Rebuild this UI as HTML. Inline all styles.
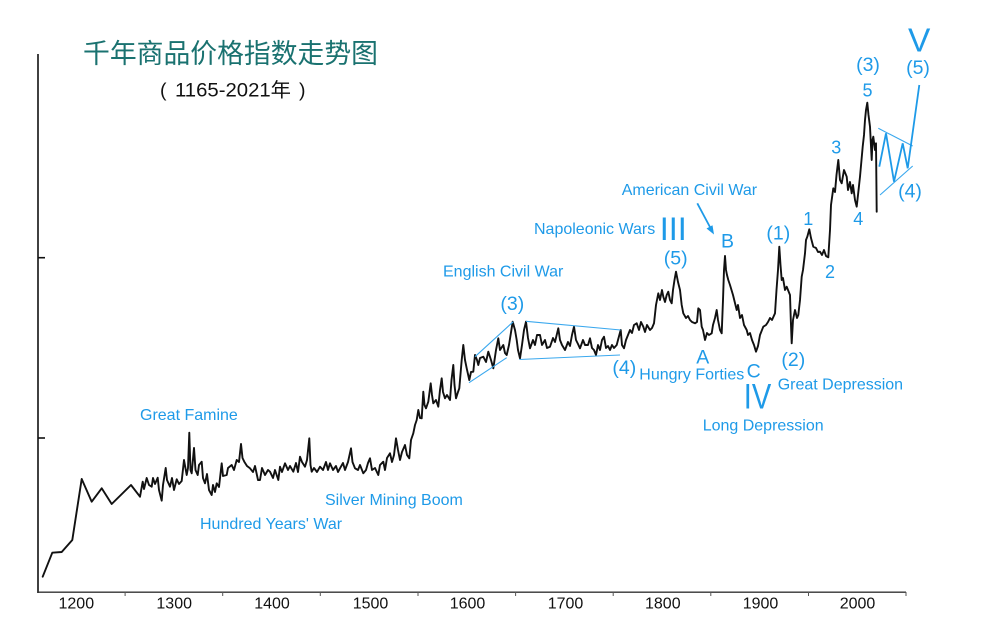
<!DOCTYPE html>
<html>
<head>
<meta charset="utf-8">
<style>
  html,body{margin:0;padding:0;background:#ffffff;}
  svg{display:block;}
  .lbl{font-family:"Liberation Sans",Arial,sans-serif;fill:#1e9ae8;}
  .ax{font-family:"Liberation Sans",Arial,sans-serif;fill:#111;}
</style>
</head>
<body>
<svg width="1000" height="629" viewBox="0 0 1000 629" xmlns="http://www.w3.org/2000/svg">
  <rect width="1000" height="629" fill="#ffffff"/>

  <!-- Title -->
  <text x="83" y="63" font-size="27" fill="#1a7270" textLength="295" lengthAdjust="spacingAndGlyphs" style="font-family:'Liberation Sans','Noto Sans CJK SC',sans-serif;">千年商品价格指数走势图</text>
  <text x="160" y="96.7" font-size="19.5" fill="#111" style="font-family:'Liberation Sans','Noto Sans CJK SC',sans-serif;">(</text>
  <text x="175" y="96.7" font-size="19.5" fill="#111" textLength="116" lengthAdjust="spacingAndGlyphs" style="font-family:'Liberation Sans','Noto Sans CJK SC',sans-serif;">1165-2021年</text>
  <text x="299" y="96.7" font-size="19.5" fill="#111" style="font-family:'Liberation Sans','Noto Sans CJK SC',sans-serif;">)</text>

  <!-- Axes -->
  <line x1="38" y1="54" x2="38" y2="593" stroke="#111" stroke-width="1.6"/>
  <line x1="37.2" y1="592.2" x2="906" y2="592.2" stroke="#333" stroke-width="1.4"/>
  <line x1="38" y1="257.7" x2="45" y2="257.7" stroke="#111" stroke-width="1.6"/>
  <line x1="38" y1="438" x2="45" y2="438" stroke="#111" stroke-width="1.6"/>
  <g stroke="#555" stroke-width="1">
    <line x1="125.1" y1="592" x2="125.1" y2="596"/>
    <line x1="222.7" y1="592" x2="222.7" y2="596"/>
    <line x1="320.3" y1="592" x2="320.3" y2="596"/>
    <line x1="418" y1="592" x2="418" y2="596"/>
    <line x1="515.6" y1="592" x2="515.6" y2="596"/>
    <line x1="613.2" y1="592" x2="613.2" y2="596"/>
    <line x1="710.8" y1="592" x2="710.8" y2="596"/>
    <line x1="808.5" y1="592" x2="808.5" y2="596"/>
    <line x1="906" y1="592" x2="906" y2="596"/>
  </g>
  <g class="ax" font-size="16" text-anchor="middle">
    <text x="76.3" y="608.3">1200</text>
    <text x="174.2" y="608.3">1300</text>
    <text x="272" y="608.3">1400</text>
    <text x="370.5" y="608.3">1500</text>
    <text x="467.5" y="608.3">1600</text>
    <text x="565.5" y="608.3">1700</text>
    <text x="662.8" y="608.3">1800</text>
    <text x="760.5" y="608.3">1900</text>
    <text x="857.5" y="608.3">2000</text>
  </g>

  <!-- Price series -->
  <polyline fill="none" stroke="#111" stroke-width="1.9" stroke-linejoin="round" stroke-linecap="round" points="
42.7,576.7 52.3,552.7 61.7,552 72.3,540 81.7,479 91.7,501.7 101.7,488.3 111.7,504 131,485 140,496.7
142.7,481.7 144,489 146.7,478 149,485 151.7,486.7 153,478 155,484 157.7,477.7 159,490 161.7,500.7 163,485 165.7,468 167,480 170,486.7 172,478 174,490 176.7,479.3 179,484 181.7,481 184,460 186.7,475 188,468 189.3,432.7 190.5,470 191.7,473.3 194,448 195.5,470 197.7,475 199,465 201.7,461.7 203,478 205,483.3 207,474 209,490 211.7,495 213,485 215,492 216.7,483.3 219,487 221.7,463.3 223,476 226.7,475 228,468 231.7,465 234,470 236.7,460 239,462 241,444 242.5,458 244.3,461.7 247,466 250,468.3 253,472 255,466 258,480 260,480 262,468 265,475 268,470 270,471.7 273,478 275,470 278.3,480
280,466.7 282,472 285,463.3 288,470 290,466 293.3,471.7 296,463 298,472 300,456.7 302,462 305,466.7 307,460 309.3,438.3 310.5,465 311.7,471.7 314,468 317,472 320,466.7 323,470 326,462 328,470 330,463.3 333,470 336,466 338,472 340,468.3 343,463 345,470 348,462 351,448.3 352.5,462 355,468.3 358,470 360,465 363.3,473.3 366,470 368,463 370,458.3 372,470 375,468 378.3,475 380,465 383.3,461.7 385,470 387,458 390,453.3 392,462 394,455 396,438.3 398,450 400,460 402,452 405,445 407,455 409.3,458.3 411,440 413.3,433.3 415,425 416.7,420 418.3,410 420,418 421.7,418.3 423.3,391.7 424.5,405 426,408.3 428.3,401.7 430.7,383.3 432,395 433.3,403.3 436,400 438.3,406.7 440,390 441.7,378.3 443,392 445,398.3 447,395 450,400 451.5,380 453.3,365 454.5,385 456,398.3 458,392 459.3,388.3 461.7,360 463.3,345 465,360 466.7,368.3 469.3,380 471,372 473.3,371.7 475,355 477,360 478.3,365 480,358 483.3,356.7 486,362 488.3,351.7 491,360 493.3,368.3 496,350 498.3,338.3 500,350 503.3,345 505,353 506.7,355 509,345 512.7,321.7 515,330 516.7,340 518,350 520,358.3
522,345 524,330 526,321.7 528,338 530,348.3 533,340 535,345 537,335 540,335 542,345 545,340 547,348 550,346.7 553,338 555,342 558.3,328.3 560,340 562,345 565,350 568,342 570,346 572,335 574,326.7 576,340 578,344 580,348.3 583,340 585,345 588,345 590,338.3 592,348 594,350 596,355 598,345 600,350 602,340 604,336.7 606,348 608,346 610,350 612,345 614,348 616.7,345 618,340 620.7,330 622,345 624,348.3 626,340 628,335 630,330 632,333 634,325 636.7,323.3 639,330 641,322 643.3,326.7 645,332 647,325 650,330 652,328 654,323.3 656,305 658.3,293.3 660,300 662,290 663.3,296.7 665,302 666.7,295 668.3,291.7 670,300 671.7,303.3 673,290 674.5,280 676,271.7 678,282 680,290 681.7,305 683.3,313.3 686,318 688,316 690,320 692,322 695,323.3 697,322 698.3,308.3 700,310 701.7,326.7 703,330 705,340 707,333 709,335 711.7,333.3 713,325 715,318 716.7,310 718,320 720,330 721.7,333.3 723,300 724,270 725,256 726,270 727,275 728.3,280 730,285 733,295 736.7,310 738,305 740,318 742,315 744,325 746.7,330 748,335 750,333 752,340 754,345 756,351.7 758,346 760,335 763.3,326.7 766,325 768,322 770,318 772,320 775,313.3 776.5,290 778,270 779.3,246.7 780.5,265 781.7,280 783,278 785,290 786.7,286.7 788,290 790,295 790.8,320 791.7,343.3 793,320 795,310 797,318 798.3,315 800,300 801.7,276.7 803,270 805,253.3 806,240 807.3,236.7 809.3,229.3 811,238 813.3,246.7 816,248 818,252 820,251.7 822,255 824,250 826,256 828.3,257.3 830,230 831,205 833.3,188.3 835,192 836.5,175 838.3,160 840,180 841.7,183.3 844,170 846.7,176.7 848,190 850,182 851.7,193.3 853,185 855,200 856.7,206.7 858,195 860,176.7 862.7,146.7 864,135 865,120 866,110 867.3,102.7 868.5,115 870,126.7 871.7,160 872.5,140 873.3,136.7 875,150 876,143.3 876.7,211.7"/>

  <!-- Blue wedge / triangle lines -->
  <g stroke="#3aa8ee" stroke-width="1.1" fill="none">
    <line x1="475" y1="356.7" x2="513.3" y2="321.7"/>
    <line x1="469" y1="382.7" x2="506.7" y2="357.7"/>
    <line x1="526" y1="321.3" x2="620.7" y2="330"/>
    <line x1="519.3" y1="359.5" x2="620" y2="355"/>
    <line x1="878.3" y1="128.3" x2="912.7" y2="146"/>
    <line x1="880" y1="195" x2="912.7" y2="166"/>
  </g>
  <polyline fill="none" stroke="#1e9ae8" stroke-width="1.8" stroke-linejoin="miter" points="879.3,166.7 886,133.3 894,181.7 902.7,143.3 907.7,168.3 919.3,85"/>

  <!-- Arrow -->
  <line x1="697.3" y1="203.3" x2="710.5" y2="228" stroke="#1e9ae8" stroke-width="1.8"/>
  <polygon points="714,234.5 706.5,228.5 712.5,225.3" fill="#1e9ae8"/>

  <!-- Annotation texts -->
  <g class="lbl" font-size="16">
    <text x="140" y="420">Great Famine</text>
    <text x="200" y="529">Hundred Years' War</text>
    <text x="325" y="505">Silver Mining Boom</text>
    <text x="443" y="276.7">English Civil War</text>
    <text x="534" y="234">Napoleonic Wars</text>
    <text x="621.7" y="195">American Civil War</text>
    <text x="639.3" y="379.3">Hungry Forties</text>
    <text x="777.7" y="389.3">Great Depression</text>
    <text x="702.7" y="430.7">Long Depression</text>
  </g>
  <g class="lbl" font-size="19.5" text-anchor="middle">
    <text x="512.3" y="310">(3)</text>
    <text x="624.3" y="374">(4)</text>
    <text x="675.7" y="264.3">(5)</text>
    <text x="778.3" y="239.3">(1)</text>
    <text x="793.3" y="366">(2)</text>
    <text x="868" y="71">(3)</text>
    <text x="918" y="74">(5)</text>
    <text x="910" y="197.7">(4)</text>
    <text x="702.7" y="363.3">A</text>
    <text x="727.5" y="247.3">B</text>
    <text x="753.7" y="377.7">C</text>
  </g>
  <g class="lbl" font-size="18" text-anchor="middle">
    <text x="808.3" y="225">1</text>
    <text x="830" y="278">2</text>
    <text x="836.2" y="153.3">3</text>
    <text x="858.3" y="225">4</text>
    <text x="867.5" y="96.7">5</text>
  </g>
  <text class="lbl" x="673.3" y="240" font-size="32.5" text-anchor="middle">III</text>
  <text class="lbl" transform="translate(757.5,408.3) scale(0.83,1)" font-size="35" text-anchor="middle">IV</text>
  <text class="lbl" x="919.2" y="51.7" font-size="33.5" text-anchor="middle">V</text>
</svg>
</body>
</html>
